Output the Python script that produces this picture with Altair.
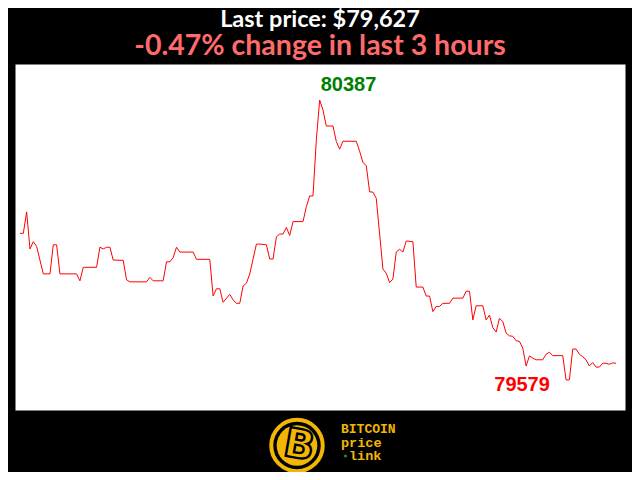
import altair as alt
import pandas as pd

# minute index within the last 3 hours (vertices of the price line)
minutes = [0, 1, 2, 3, 4, 5, 7, 9, 10, 11, 12, 17, 18, 19, 23, 24, 25, 26, 27, 28,
           31, 32, 33, 38, 39, 40, 43, 44, 45, 46, 47, 48, 52, 53, 57, 58, 59, 60, 61, 63,
           64, 65, 66, 67, 68, 69, 71, 72, 74, 75, 76, 77, 78, 79, 80, 81, 82, 85, 86, 87,
           88, 89, 90, 91, 92, 94, 95, 96, 97, 101, 102, 103, 104, 105, 106, 107, 109, 110, 111, 112,
           113, 114, 115, 116, 118, 119, 121, 122, 123, 124, 125, 126, 127, 129, 130, 133, 134, 135, 136, 137,
           139, 140, 141, 142, 143, 144, 145, 146, 147, 148, 149, 150, 151, 152, 153, 154, 155, 157, 158, 159,
           160, 163, 164, 165, 166, 167, 168, 169, 170, 171, 172, 173, 174, 175, 176, 177, 178, 179]

prices = [80002, 80002, 80064, 79957, 79978, 79964, 79885, 79885, 79969, 79969, 79885, 79885, 79865, 79904, 79904, 79962, 79957, 79962, 79962, 79925,
          79924, 79868, 79862, 79862, 79875, 79865, 79865, 79920, 79920, 79932, 79962, 79948, 79948, 79927, 79927, 79821, 79842, 79842, 79803, 79826,
          79810, 79800, 79800, 79850, 79858, 79885, 79971, 79971, 79969, 79928, 79928, 79992, 80000, 80000, 80019, 79996, 80036, 80036, 80079, 80110,
          80110, 80272, 80387, 80358, 80312, 80312, 80267, 80245, 80268, 80268, 80239, 80207, 80197, 80122, 80121, 80103, 79899, 79887, 79860, 79870,
          79948, 79956, 79948, 79980, 79978, 79847, 79847, 79821, 79821, 79776, 79791, 79791, 79800, 79800, 79815, 79815, 79835, 79835, 79752, 79793,
          79793, 79752, 79766, 79730, 79717, 79757, 79747, 79714, 79706, 79705, 79692, 79690, 79671, 79619, 79648, 79642, 79637, 79637, 79653, 79659,
          79649, 79649, 79579, 79579, 79668, 79668, 79653, 79646, 79637, 79619, 79629, 79616, 79616, 79627, 79627, 79624, 79628, 79627]

title_text = "Last price: $79,627"
subtitle_text = "-0.47% change in last 3 hours"
logo_lines = ["BITCOIN", "price", "link"]

df = pd.DataFrame({"t": minutes, "price": prices})
max_df = df.loc[[df["price"].idxmax()]]
min_df = df.loc[[df["price"].idxmin()]]

x = alt.X("t:Q", scale=alt.Scale(domain=[-1.5, 181.7], nice=False, zero=False), axis=None)
y = alt.Y("price:Q", scale=alt.Scale(domain=[79492, 80491], nice=False, zero=False), axis=None)

line = alt.Chart(df).mark_line(color="#ff0000", strokeWidth=1).encode(x=x, y=y)

max_text = alt.Chart(max_df).mark_text(
    align="left", baseline="alphabetic", dx=1, dy=-9,
    font="Liberation Sans", fontWeight="bold", fontSize=20, color="#008000"
).encode(x=x, y=y, text=alt.Text("price:Q", format="d"))

min_text = alt.Chart(min_df).mark_text(
    align="center", baseline="alphabetic", dx=-44, dy=11,
    font="Liberation Sans", fontWeight="bold", fontSize=20, color="#ff0000"
).encode(x=x, y=y, text=alt.Text("price:Q", format="d"))

gold = "#F2B705"
logo_df = pd.DataFrame({"k": [0]})
base = alt.Chart(logo_df)
ring = base.mark_point(shape="circle", filled=False, stroke=gold, strokeWidth=4, opacity=1).encode(
    x=alt.value(282), y=alt.value(381.5), size=alt.value(2650))
disc = base.mark_point(shape="circle", filled=True, fill=gold, opacity=1).encode(
    x=alt.value(282), y=alt.value(381.5), size=alt.value(1650))
bee = base.mark_text(text="B", font="DejaVu Sans", fontWeight="bold", fontSize=40,
                     fill=gold, stroke="black", strokeWidth=2.4, angle=10,
                     align="center", baseline="middle").encode(
    x=alt.value(284), y=alt.value(382))
t1 = base.mark_text(text=logo_lines[0], font="Liberation Mono", fontWeight="bold", fontSize=13,
                    color=gold, align="left", baseline="alphabetic").encode(
    x=alt.value(326), y=alt.value(368.5))
t2 = base.mark_text(text=logo_lines[1], font="Liberation Mono", fontWeight="bold", fontSize=13.5,
                    color=gold, align="left", baseline="alphabetic").encode(
    x=alt.value(326), y=alt.value(382.5))
t3 = base.mark_text(text=logo_lines[2], font="Liberation Mono", fontWeight="bold", fontSize=13.5,
                    color=gold, align="left", baseline="alphabetic").encode(
    x=alt.value(334), y=alt.value(395.5))
dot = base.mark_point(shape="square", filled=True, fill="#2e9e2e", opacity=1).encode(
    x=alt.value(330.5), y=alt.value(392), size=alt.value(6))

chart = alt.layer(line, max_text, min_text, ring, disc, bee, t1, t2, t3, dot).properties(
    width=610,
    height=346,
    padding={"left": 7, "top": 56, "right": 7, "bottom": 62},
    autosize=alt.AutoSizeParams(type="none"),
    background="black",
    title=alt.TitleParams(
        text=title_text, subtitle=subtitle_text,
        color="white", subtitleColor="#FF6B6B",
        font="Lato", fontWeight="bold", fontSize=23.5,
        subtitleFont="Lato", subtitleFontWeight="bold", subtitleFontSize=28.5,
        anchor="middle", offset=4, subtitlePadding=0,
    ),
).configure_view(fill="white", strokeOpacity=0)

chart.save("out.html", embed_options={"renderer": "svg", "actions": False})
